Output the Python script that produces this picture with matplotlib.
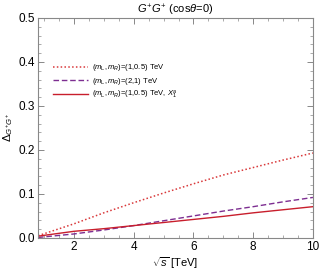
import matplotlib
matplotlib.use("Agg")
import matplotlib.pyplot as plt
import numpy as np
from matplotlib.ticker import MultipleLocator

plt.rcParams['font.family'] = ['Liberation Sans', 'DejaVu Sans']
plt.rcParams['mathtext.fontset'] = 'custom'
plt.rcParams['mathtext.rm'] = 'Liberation Sans'
plt.rcParams['mathtext.it'] = 'Liberation Sans:italic'

# values
sqrt_s = [0.8, 2, 3, 4, 5, 6, 7, 8, 9, 10]
delta_1_05 = [0.005, 0.032, 0.057, 0.080, 0.102, 0.123, 0.143, 0.160, 0.177, 0.193]
delta_2_1 = [0.001, 0.009, 0.018, 0.028, 0.039, 0.050, 0.061, 0.071, 0.082, 0.092]
delta_1_05_X = [0.004, 0.015, 0.021, 0.028, 0.035, 0.042, 0.049, 0.057, 0.064, 0.071]
labels = [r'$(m_{\rm L},m_R)$=(1,0.5) TeV',
          r'$(m_{\rm L},m_R)$=(2,1) TeV',
          r'$(m_{\rm L},m_R)$=(1,0.5) TeV, $X_1^a$']

fig = plt.figure(figsize=(3.2, 2.76), dpi=100)
ax = fig.add_axes([0.119, 0.138, 0.859, 0.797])

ax.plot(sqrt_s, delta_1_05, ls=(0, (1, 1.5)), color='#d9383a', lw=1.1, label=labels[0])
ax.plot(sqrt_s, delta_2_1, ls=(0, (4, 2)), color='#7d2e91', lw=1.0, label=labels[1])
ax.plot(sqrt_s, delta_1_05_X, ls='-', color='#c81e2c', lw=1.0, label=labels[2])

ax.set_xlim(0.8, 10)
ax.set_ylim(0, 0.5)
ax.xaxis.set_major_locator(MultipleLocator(2))
ax.xaxis.set_minor_locator(MultipleLocator(0.5))
ax.yaxis.set_major_locator(MultipleLocator(0.1))
ax.yaxis.set_minor_locator(MultipleLocator(0.02))
ax.tick_params(which='both', direction='in', top=True, right=True, color='#888888')
ax.tick_params(which='major', length=4, width=0.7, labelsize=8.5, pad=2)
ax.tick_params(which='minor', length=2, width=0.5)
for sp in ax.spines.values():
    sp.set_color('#888888')
    sp.set_linewidth(0.8)

ax.set_title(r'$G^{+}G^{+}$ (cos$\theta$=0)', fontsize=8, pad=3)
ax.set_xlabel(r'$\sqrt{s}$ [TeV]', fontsize=8, labelpad=2)
ax.set_ylabel(r'$\Delta_{G^{+}G^{+}}$', fontsize=8, labelpad=3)

ax.legend(loc='upper left', bbox_to_anchor=(0.03, 0.83), frameon=False, fontsize=5.5,
          handlelength=4.5, handletextpad=0.6, labelspacing=0.3)

fig.savefig('out.png', dpi=100)
